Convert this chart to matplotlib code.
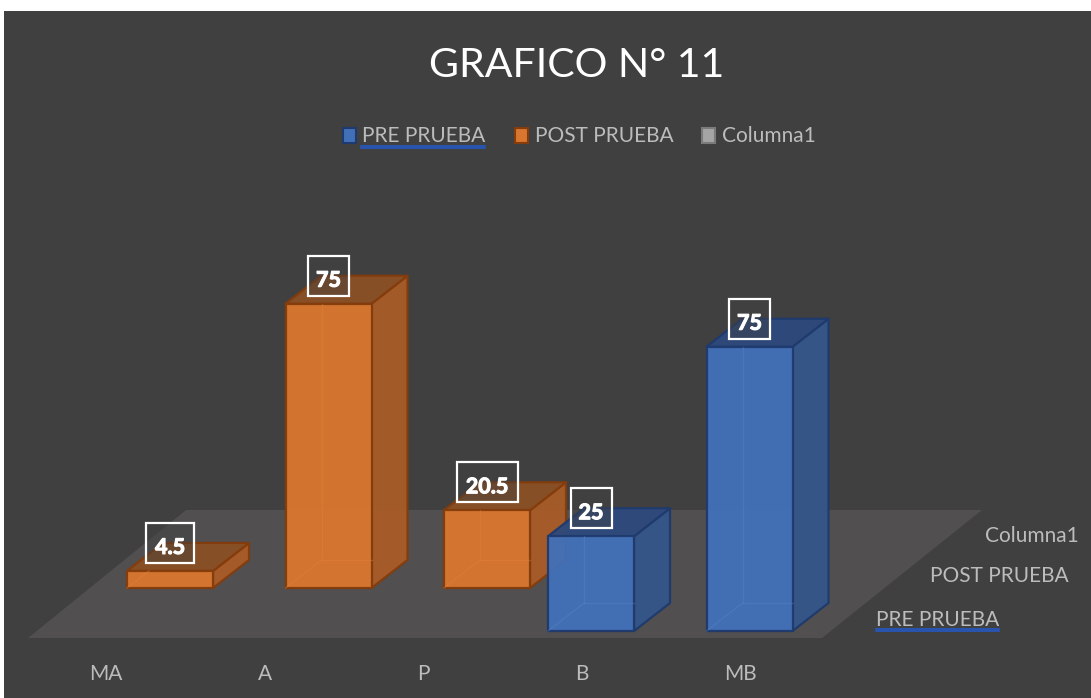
import matplotlib
matplotlib.use("Agg")
import matplotlib.pyplot as plt
import matplotlib.patheffects as pe
from matplotlib.patches import Polygon, Rectangle

plt.rcParams['font.family'] = ['Lato', 'DejaVu Sans']

# Datos
categories = ["MA", "A", "P", "B", "MB"]
series_names = ["PRE PRUEBA", "POST PRUEBA", "Columna1"]
pre_prueba = [None, None, None, 25, 75]
post_prueba = [4.5, 75, 20.5, None, None]
columna1 = [None, None, None, None, None]
value_labels = {4.5: "4.5", 20.5: "20.5", 25: "25", 75: "75"}

# Proyeccion oblicua, en pixeles de la figura
PX_PER_UNIT = 3.79
CAT_STEP = 158.5
BAR_W = 86
DEPTH_X, DEPTH_Y = 36, 28
SERIES_DX, SERIES_DY = 54.5, 43
X0, Y0 = 72.5, 631

BG = "#404040"
FLOOR = "#514f4f"
TEXT = "#bcbcbc"
UNDERLINE = "#2459c4"

colors = [
    {"front": "#4270b8", "side": "#35568a", "top": "#2e4a7c", "edge": "#1f3a6e", "inner": "#5a86cc"},
    {"front": "#d9762f", "side": "#a85c28", "top": "#8a5024", "edge": "#843c0c", "inner": "#e8833a"},
]


def base_point(cat, series):
    return X0 + cat * CAT_STEP + series * SERIES_DX, Y0 - series * SERIES_DY


def draw_bar(ax, cat, series, value, style):
    x, y = base_point(cat, series)
    h = value * PX_PER_UNIT
    w = BAR_W
    dx, dy = DEPTH_X, DEPTH_Y
    z = 3 + 2 * (1 - series)
    # Aristas ocultas, se ven a traves de la cara frontal
    if h > dy:
        hidden = [[(x, y), (x + dx, y - dy)],
                  [(x + dx, y - dy), (x + w, y - dy)],
                  [(x + dx, y - dy), (x + dx, y - h)]]
    else:
        # barra baja: solo se alcanza a ver el arranque de la diagonal
        hidden = [[(x, y), (x + h * dx / dy, y - h)]]
    faces = [
        ([(x + w, y), (x + w + dx, y - dy), (x + w + dx, y - dy - h), (x + w, y - h)], style["side"]),
        ([(x, y - h), (x + w, y - h), (x + w + dx, y - h - dy), (x + dx, y - h - dy)], style["top"]),
        ([(x, y), (x + w, y), (x + w, y - h), (x, y - h)], style["front"]),
    ]
    for pts, color in faces:
        ax.add_patch(Polygon(pts, closed=True, facecolor=color, edgecolor=style["edge"],
                             linewidth=1.6, alpha=0.96, joinstyle="round", zorder=z))
    for seg in hidden:
        ax.plot(*zip(*seg), color=style["inner"], alpha=0.35, linewidth=1.0, zorder=z + 0.5)


def draw_label(ax, cat, series, value):
    x, y = base_point(cat, series)
    text = value_labels[value]
    cx = x + BAR_W / 2
    cy = y - value * PX_PER_UNIT - 28
    half_w = 30.5 if len(text) > 3 else (24 if len(text) == 3 else 20.5)
    ax.add_patch(Rectangle((cx - half_w, cy - 20), half_w * 2, 40, facecolor=BG, alpha=0.42,
                           edgecolor="none", zorder=9))
    ax.add_patch(Rectangle((cx - half_w, cy - 20), half_w * 2, 40, facecolor="none",
                           edgecolor="white", linewidth=1.6, zorder=10))
    ax.text(cx, cy + 2.5, text, color="white", fontsize=15.5, fontweight="bold",
            ha="center", va="center_baseline", zorder=11,
            path_effects=[pe.withStroke(linewidth=0.8, foreground="white")])


def underline(ax, x1, x2, y):
    ax.plot([x1, x2], [y, y], color=UNDERLINE, linewidth=1.2, zorder=8)
    ax.plot([x1, x2], [y + 2.5, y + 2.5], color=UNDERLINE, linewidth=1.2, zorder=8)


fig = plt.figure(figsize=(10.91, 6.98), dpi=100, facecolor="white")
ax = fig.add_axes([0, 0, 1, 1])
ax.set_xlim(0, 1091)
ax.set_ylim(698, 0)
ax.axis("off")

# Fondo y piso
ax.add_patch(Rectangle((4, 11), 1087, 687, facecolor=BG, edgecolor="none", zorder=0))
ax.add_patch(Polygon([(28, 638), (822, 638), (982, 510), (186, 510)], closed=True,
                     facecolor=FLOOR, edgecolor="none", zorder=1))

# Barras, de atras hacia adelante
for s, values in [(1, post_prueba), (0, pre_prueba)]:
    for c, v in enumerate(values):
        if v is not None:
            draw_bar(ax, c, s, v, colors[s])
for s, values in [(1, post_prueba), (0, pre_prueba)]:
    for c, v in enumerate(values):
        if v is not None:
            draw_label(ax, c, s, v)

# Titulo
ax.text(576.5, 65.5, "GRAFICO N° 11", color="white", fontsize=29.5, ha="center", va="center")

# Leyenda
legend_swatches = [(343, "#4270b8", "#1f3a6e"), (515, "#d9762f", "#843c0c"), (702, "#a5a5a5", "#7b7b7b")]
legend_text_x = [362, 535, 722]
for (sx, fc, ec), tx, name in zip(legend_swatches, legend_text_x, series_names):
    ax.add_patch(Rectangle((sx, 128), 13, 15, facecolor=fc, edgecolor=ec, linewidth=1.5, zorder=5))
    ax.text(tx, 136, name, color=TEXT, fontsize=15, ha="left", va="center")
underline(ax, 361, 485, 145.5)

# Etiquetas de categorias
for c, name in enumerate(categories):
    ax.text(106 + c * CAT_STEP, 674, name, color=TEXT, fontsize=15, ha="center", va="center")

# Etiquetas de series
series_label_x = [876, 930, 985]
series_label_y = [619.5, 575.5, 535.5]
for name, lx, ly in zip(series_names, series_label_x, series_label_y):
    ax.text(lx, ly, name, color=TEXT, fontsize=15, ha="left", va="center")
underline(ax, 876, 999, 628.5)

fig.savefig("out.png", dpi=100, facecolor="white")
